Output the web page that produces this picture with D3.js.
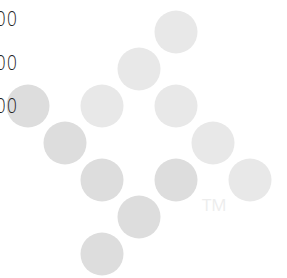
<!DOCTYPE html>
<html>
<head>
<meta charset="utf-8">
<script src="https://cdn.jsdelivr.net/npm/d3@7"></script>
<style>
html,body{margin:0;padding:0;background:#fff;overflow:hidden;}
svg{display:block;}
</style>
</head>
<body>
<svg id="c" width="287" height="278"></svg>
<script>
// Tick labels visible at the left edge (only the trailing "00" fits on screen)
const tickValues = [300, 200, 100];
const tickLabels = ["300", "200", "100"];
// Watermark dots: grid column, grid row, tone
const dotCols  = [4, 3, 0, 2, 4, 1, 5, 2, 4, 6, 3, 2];
const dotRows  = [0, 1, 2, 2, 2, 3, 3, 4, 4, 4, 5, 6];
const dotTones = ["light","light","dark","light","light","dark","light","dark","dark","light","dark","dark"];
const trademark = "TM";

const svg = d3.select("#c");
const x = d3.scaleLinear().domain([0, 6]).range([28, 250]);
const yDot = d3.scaleLinear().domain([0, 6]).range([32, 254]);
const toneColor = d3.scaleOrdinal().domain(["light","dark"]).range(["#e8e8e8","#dddddd"]);

const dots = dotCols.map((c, i) => ({c, r: dotRows[i], t: dotTones[i]}));
svg.append("g").selectAll("circle").data(dots).join("circle")
  .attr("cx", d => x(d.c)).attr("cy", d => yDot(d.r)).attr("r", 21.5)
  .attr("fill", d => toneColor(d.t));

svg.append("text").attr("x", 202).attr("y", 211)
  .attr("font-family", "'Open Sans', sans-serif").attr("font-size", 17)
  .attr("fill", "#ededed").text(trademark);

// y axis (labels only)
const y = d3.scaleLinear().domain([100, 300]).range([112.3, 25.7]);
const axis = d3.axisLeft(y).tickValues(tickValues).tickFormat((d, i) => tickLabels[i]).tickSize(0).tickPadding(0);
const ag = svg.append("g").attr("transform", "translate(18.2,0)").call(axis);
ag.select(".domain").remove();
ag.attr("font-size", null).attr("font-family", null);
ag.selectAll("text")
  .attr("x", 0).attr("dy", 0)
  .attr("transform", "scale(0.84,1)")
  .style("font-family", "'Open Sans', sans-serif")
  .style("font-size", "20.5px")
  .style("font-weight", "300")
  .style("letter-spacing", "1.6px")
  .attr("fill", "#222");
</script>
</body>
</html>
